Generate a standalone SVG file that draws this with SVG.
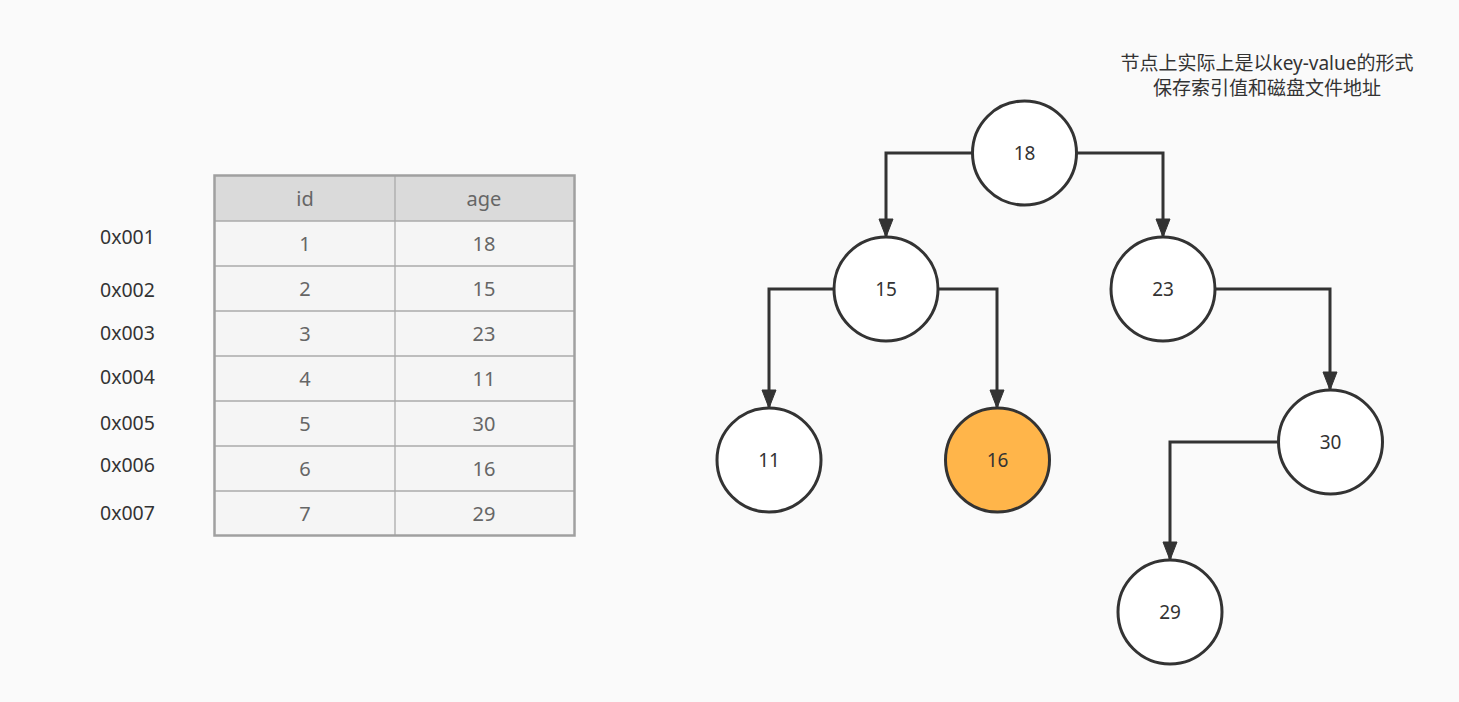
<svg xmlns="http://www.w3.org/2000/svg" width="1459" height="702" viewBox="0 0 1459 702">
<defs>
<style>
.t{font-family:"Noto Sans","Noto Sans CJK SC",sans-serif;}
.addr{font-size:19.5px;fill:#333;}
.cell{font-size:20px;fill:#666;text-anchor:middle;}
.node{fill:#fff;stroke:#333;stroke-width:3;}
.hl{fill:#ffb54a;}
.lbl{font-size:19px;fill:#333;text-anchor:middle;}
.edge{fill:none;stroke:#333;stroke-width:3;}
.note{font-size:19px;fill:#333;text-anchor:middle;}
.grid{stroke:#aaa;stroke-width:1.3;}
</style>
<marker id="arr" markerUnits="userSpaceOnUse" markerWidth="20" markerHeight="16" viewBox="0 0 20 16" refX="19" refY="8" orient="auto">
<path d="M1,1 L19,8 L1,15 Z" fill="#333" stroke="#333" stroke-width="1"/>
</marker>
</defs>
<rect width="1459" height="702" fill="#fafafa"/>

<g id="addresses" class="t addr">
<text x="100" y="244">0x001</text>
<text x="100" y="297">0x002</text>
<text x="100" y="340">0x003</text>
<text x="100" y="384">0x004</text>
<text x="100" y="430">0x005</text>
<text x="100" y="472">0x006</text>
<text x="100" y="520">0x007</text>
</g>

<g id="table">
<rect x="215" y="176" width="359" height="45" fill="#dadada"/>
<rect x="215" y="221" width="359" height="314" fill="#f5f5f5"/>
<g class="grid">
<line x1="215" y1="221" x2="574" y2="221"/>
<line x1="215" y1="266" x2="574" y2="266"/>
<line x1="215" y1="311" x2="574" y2="311"/>
<line x1="215" y1="356" x2="574" y2="356"/>
<line x1="215" y1="401" x2="574" y2="401"/>
<line x1="215" y1="446" x2="574" y2="446"/>
<line x1="215" y1="491" x2="574" y2="491"/>
<line x1="395" y1="176" x2="395" y2="535"/>
</g>
<rect x="214.5" y="175.5" width="360" height="360" fill="none" stroke="#a0a0a0" stroke-width="2.5"/>
<g class="t cell">
<text x="305" y="206">id</text><text x="484" y="206">age</text>
<text x="305" y="251">1</text><text x="484" y="251">18</text>
<text x="305" y="296">2</text><text x="484" y="296">15</text>
<text x="305" y="341">3</text><text x="484" y="341">23</text>
<text x="305" y="386">4</text><text x="484" y="386">11</text>
<text x="305" y="431">5</text><text x="484" y="431">30</text>
<text x="305" y="476">6</text><text x="484" y="476">16</text>
<text x="305" y="521">7</text><text x="484" y="521">29</text>
</g>
</g>

<g id="note" class="t note">
<text x="1267" y="70">节点上实际上是以key-value的形式</text>
<text x="1267" y="95">保存索引值和磁盘文件地址</text>
</g>

<g id="connectors">
<path class="edge" d="M972,153 H886 V237" marker-end="url(#arr)"/>
<path class="edge" d="M1077,153 H1163 V237" marker-end="url(#arr)"/>
<path class="edge" d="M834,289 H769 V408" marker-end="url(#arr)"/>
<path class="edge" d="M938,289 H997 V408" marker-end="url(#arr)"/>
<path class="edge" d="M1215,289 H1330 V390" marker-end="url(#arr)"/>
<path class="edge" d="M1278,442 H1170 V560" marker-end="url(#arr)"/>
</g>

<g id="n18"><circle class="node" cx="1024.5" cy="153" r="52"/><text class="t lbl" x="1024.5" y="160">18</text></g>
<g id="n15"><circle class="node" cx="886" cy="289" r="52"/><text class="t lbl" x="886" y="296">15</text></g>
<g id="n23"><circle class="node" cx="1163" cy="289" r="52"/><text class="t lbl" x="1163" y="296">23</text></g>
<g id="n11"><circle class="node" cx="769" cy="460" r="52"/><text class="t lbl" x="769" y="467">11</text></g>
<g id="n16"><circle class="node hl" cx="997.5" cy="460" r="52"/><text class="t lbl" x="997.5" y="467">16</text></g>
<g id="n30"><circle class="node" cx="1330.5" cy="442" r="52"/><text class="t lbl" x="1330.5" y="449">30</text></g>
<g id="n29"><circle class="node" cx="1170" cy="612" r="52"/><text class="t lbl" x="1170" y="619">29</text></g>
</svg>
